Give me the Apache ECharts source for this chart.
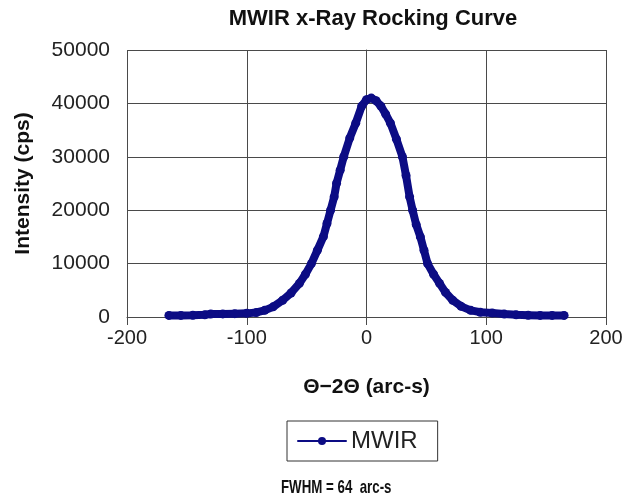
<!DOCTYPE html>
<html>
<head>
<meta charset="utf-8">
<script src="https://cdn.jsdelivr.net/npm/echarts@6/dist/echarts.min.js"></script>
<style>
  html, body { margin: 0; padding: 0; background: #fff; }
  #chart { width: 632px; height: 503px; }
</style>
</head>
<body>
<div id="chart"></div>
<script>
// arc-s offset and intensity (cps)
const angle = [
  -165, -155, -145, -135, -130, -120, -110, -100, -92, -85, -78, -70, -63, -56,
  -51, -46, -41, -36, -33, -30, -27, -25, -22, -19, -14, -9, -4, 0, 4, 8, 12,
  16, 20, 25, 30, 33, 36, 38.5, 41.5, 45, 48, 51, 56, 61, 66, 72, 79, 87, 95,
  105, 115, 125, 135, 145, 155, 165
];
const intensity = [
  300, 300, 330, 420, 560, 580, 620, 680, 850, 1250, 1900, 3130, 4500, 6300,
  8000, 10000, 12500, 15040, 17500, 20000, 22500, 25040, 27500, 30000, 33500,
  36300, 39500, 40700, 41000, 40500, 39500, 38000, 36300, 33300, 30000, 26500,
  22500, 20000, 17300, 15000, 12500, 10000, 8000, 6300, 4600, 3130, 2000, 1250,
  900, 750, 550, 400, 330, 300, 300, 300
];
const xTicks = [-200, 200, 100];   // min, max, step
const yTicks = [0, 50000, 10000];

const chart = echarts.init(document.getElementById("chart"));
const font = "Liberation Sans";
const navy = "#0c0c84";
const gridColor = "#4a4a4a";

const option = {
  animation: false,
  title: {
    text: "MWIR x-Ray Rocking Curve",
    left: 368,
    top: 3,
    textAlign: "center",
    textStyle: { fontFamily: font, fontSize: 22, fontWeight: "bold", color: "#111" }
  },
  grid: { left: 127, right: 26, top: 50, bottom: 186 },
  legend: {
    data: ["MWIR"],
    left: 287,
    top: 421,
    itemWidth: 48,
    itemHeight: 10,
    padding: [8, 20, 8, 10],
    borderColor: "#333",
    borderWidth: 1,
    borderRadius: 0,
    itemGap: 4,
    lineStyle: { width: 2 },
    textStyle: { fontFamily: font, fontSize: 24, color: "#222" }
  },
  xAxis: {
    type: "value",
    min: xTicks[0],
    max: xTicks[1],
    interval: xTicks[2],
    name: "\u0398\u22122\u0398 (arc-s)",
    nameLocation: "middle",
    nameGap: 60,
    nameTextStyle: { fontFamily: font, fontSize: 21, fontWeight: "bold", color: "#111" },
    axisLine: { onZero: false, lineStyle: { color: gridColor, width: 1 } },
    axisTick: { show: true, length: 8, lineStyle: { color: gridColor } },
    axisLabel: { margin: 11, fontFamily: font, fontSize: 20, color: "#222" },
    splitLine: { show: true, lineStyle: { color: gridColor, width: 1 } }
  },
  yAxis: {
    type: "value",
    min: yTicks[0],
    max: yTicks[1],
    interval: yTicks[2],
    name: "Intensity (cps)",
    nameLocation: "middle",
    nameGap: 93,
    nameTextStyle: { fontFamily: font, fontSize: 21, fontWeight: "bold", color: "#111" },
    axisLine: { show: true, lineStyle: { color: gridColor, width: 1 } },
    axisTick: { show: true, length: 10, lineStyle: { color: gridColor } },
    axisLabel: {
      margin: 17,
      fontFamily: font,
      fontSize: 21,
      color: "#222",
      formatter: (v) => String(v)
    },
    splitLine: { show: true, lineStyle: { color: gridColor, width: 1 } }
  },
  series: [
    {
      name: "MWIR",
      type: "line",
      data: angle.map((a, i) => [a, intensity[i]]),
      symbol: "circle",
      symbolSize: 9,
      showSymbol: true,
      itemStyle: { color: navy },
      lineStyle: { color: navy, width: 8, cap: "round", join: "round" }
    }
  ],
  graphic: [
    {
      type: "text",
      x: 281,
      y: 478,
      scaleX: 0.7,
      style: {
        text: "FWHM = 64  arc-s",
        fontFamily: font,
        fontSize: 19,
        fontWeight: "bold",
        fill: "#111"
      }
    }
  ]
};
chart.setOption(option);
</script>
</body>
</html>
